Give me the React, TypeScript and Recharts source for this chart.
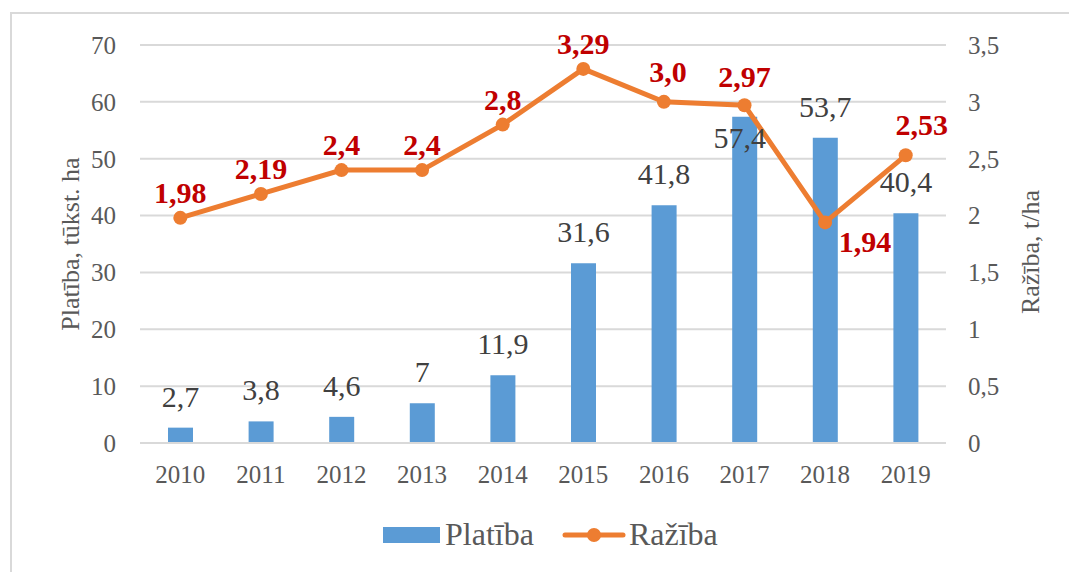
import React from 'react';
import { ComposedChart, Bar, Line, XAxis, YAxis, CartesianGrid, LabelList, Label } from 'recharts';

const years = ['2010', '2011', '2012', '2013', '2014', '2015', '2016', '2017', '2018', '2019'];
const platiba = [2.7, 3.8, 4.6, 7, 11.9, 31.6, 41.8, 57.4, 53.7, 40.4];
const raziba = [1.98, 2.19, 2.4, 2.4, 2.8, 3.29, 3.0, 2.97, 1.94, 2.53];
const razibaLabels = ['1,98', '2,19', '2,4', '2,4', '2,8', '3,29', '3,0', '2,97', '1,94', '2,53'];
const leftTicks = [0, 10, 20, 30, 40, 50, 60, 70];
const rightTicks = [0, 0.5, 1, 1.5, 2, 2.5, 3, 3.5];

const data = years.map((y, i) => ({ year: y, platiba: platiba[i], raziba: raziba[i] }));

const FONT = '"Liberation Serif", "Times New Roman", serif';
const BLUE = '#5B9BD5';
const ORANGE = '#ED7D31';
const RED = '#C00000';
const GRAY = '#595959';

// label placement tweaks (style only)
const lineShift: Record<number, [number, number]> = {
  6: [4, -20],
  7: [0, -18],
  8: [40, 30],
  9: [16, -20],
};
const barShift: Record<number, number> = { 7: 31 };

const fmt = (v: number) => String(v).replace('.', ',');

const BarLabel = (p: any) => {
  const { x, y, width, value, index } = p;
  const dy = barShift[index] !== undefined ? barShift[index] : -21;
  return (
    <text x={x + width / 2 - (index === 7 ? 5 : 0)} y={y + dy} textAnchor="middle" fontFamily={FONT} fontSize={30} fill="#404040">
      {fmt(value)}
    </text>
  );
};

const LineLabel = (p: any) => {
  const { x, y, index } = p;
  const s = lineShift[index] || [0, -15];
  return (
    <text x={x + s[0]} y={y + s[1]} textAnchor="middle" fontFamily={FONT} fontSize={30} fontWeight="bold" fill={RED}>
      {razibaLabels[index]}
    </text>
  );
};

const LegendBox = () => (
  <div style={{ position: 'absolute', left: 383, top: 515, display: 'flex', alignItems: 'center', fontFamily: FONT, fontSize: 32, color: GRAY, lineHeight: '38px' }}>
    <svg width={57} height={16} style={{ marginRight: 5, marginTop: 2 }}>
      <rect x={0} y={0} width={57} height={16} fill={BLUE} />
    </svg>
    <span>Platība</span>
    <svg width={64} height={16} style={{ marginLeft: 28, marginRight: 3, marginTop: 2 }}>
      <line x1={3} y1={8} x2={61} y2={8} stroke={ORANGE} strokeWidth={5} strokeLinecap="round" />
      <circle cx={32} cy={8} r={7} fill={ORANGE} />
    </svg>
    <span>Ražība</span>
  </div>
);

export default function App() {
  return (
    <div style={{ position: 'absolute', left: 0, top: 0, width: 1069, height: 572, background: '#fff' }}>
      <div style={{ position: 'absolute', left: 10, top: 12, width: 1059, height: 560, borderLeft: '2px solid #D9D9D9', borderTop: '2px solid #D9D9D9', boxSizing: 'border-box' }} />
      <ComposedChart width={1069} height={572} data={data} margin={{ top: 45, right: 0, bottom: 0, left: 0 }}>
        <CartesianGrid vertical={false} stroke="#D9D9D9" strokeWidth={2} yAxisId="left" />
        <XAxis
          dataKey="year"
          height={129}
          tickLine={false}
          axisLine={{ stroke: '#D9D9D9', strokeWidth: 2 }}
          tickMargin={16}
          tick={{ fontFamily: FONT, fontSize: 25, fill: GRAY }}
        />
        <YAxis
          yAxisId="left"
          width={140}
          domain={[0, 70]}
          ticks={leftTicks}
          tickLine={false}
          axisLine={false}
          tickMargin={18}
          tick={{ fontFamily: FONT, fontSize: 25, fill: GRAY }}
        >
          <Label
            content={(p: any) => {
              const vb = p.viewBox;
              const cx = vb.x + 70;
              const cy = vb.y + vb.height / 2;
              return (
                <text x={cx} y={cy} transform={`rotate(-90 ${cx} ${cy})`} textAnchor="middle" dominantBaseline="central" fontFamily={FONT} fontSize={26} fill={GRAY}>
                  Platība, tūkst. ha
                </text>
              );
            }}
          />
        </YAxis>
        <YAxis
          yAxisId="right"
          orientation="right"
          width={123}
          domain={[0, 3.5]}
          ticks={rightTicks}
          tickLine={false}
          axisLine={false}
          tickMargin={16}
          tickFormatter={(v: number) => fmt(v)}
          tick={{ fontFamily: FONT, fontSize: 25, fill: GRAY, textAnchor: 'start' }}
        >
          <Label
            content={(p: any) => {
              const vb = p.viewBox;
              const cx = vb.x + 84;
              const cy = vb.y + vb.height / 2 + 8;
              return (
                <text x={cx} y={cy} transform={`rotate(-90 ${cx} ${cy})`} textAnchor="middle" dominantBaseline="central" fontFamily={FONT} fontSize={26} fill={GRAY}>
                  Ražība, t/ha
                </text>
              );
            }}
          />
        </YAxis>
        <Bar yAxisId="left" dataKey="platiba" name="Platība" fill={BLUE} barSize={25} isAnimationActive={false}>
          <LabelList dataKey="platiba" content={BarLabel} />
        </Bar>
        <Line
          yAxisId="right"
          dataKey="raziba"
          name="Ražība"
          stroke={ORANGE}
          strokeWidth={5}
          dot={{ r: 7, fill: ORANGE, stroke: ORANGE, strokeWidth: 0 }}
          activeDot={false}
          isAnimationActive={false}
        >
          <LabelList dataKey="raziba" content={LineLabel} />
        </Line>
      </ComposedChart>
      <LegendBox />
    </div>
  );
}
